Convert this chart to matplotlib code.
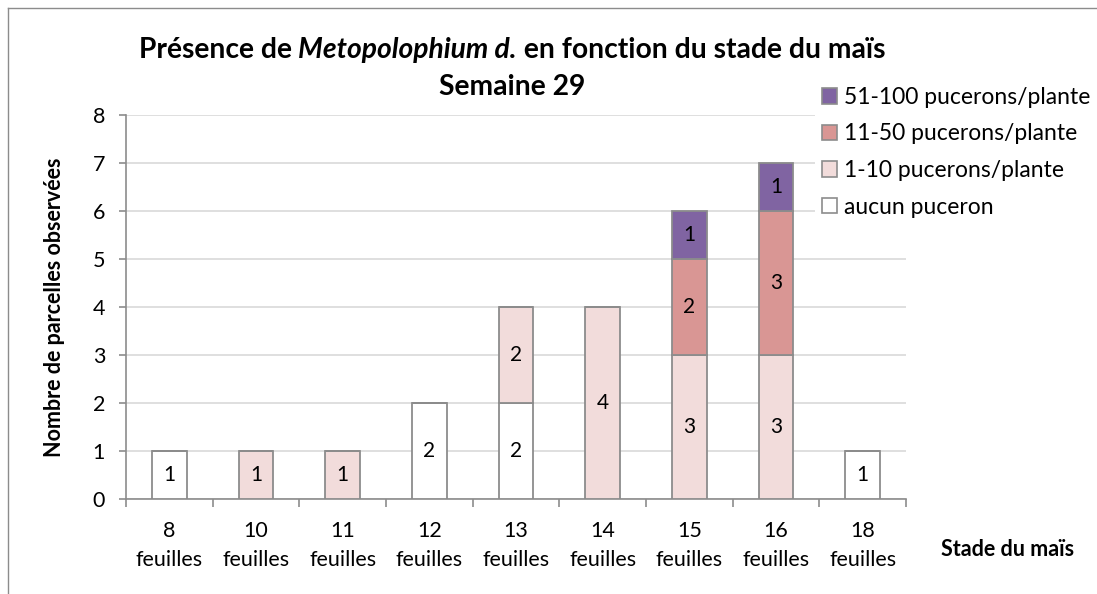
import matplotlib
matplotlib.use("Agg")
import matplotlib.pyplot as plt
from matplotlib.patches import Patch
from matplotlib.lines import Line2D
import numpy as np

categories = ["8\nfeuilles", "10\nfeuilles", "11\nfeuilles", "12\nfeuilles", "13\nfeuilles",
              "14\nfeuilles", "15\nfeuilles", "16\nfeuilles", "18\nfeuilles"]
aucun = [1, 0, 0, 2, 2, 0, 0, 0, 1]
p1_10 = [0, 1, 1, 0, 2, 4, 3, 3, 0]
p11_50 = [0, 0, 0, 0, 0, 0, 2, 3, 0]
p51_100 = [0, 0, 0, 0, 0, 0, 1, 1, 0]
series_names = ["aucun puceron", "1-10 pucerons/plante", "11-50 pucerons/plante", "51-100 pucerons/plante"]
colors = ["#FFFFFF", "#F2DCDB", "#D99694", "#8064A2"]

plt.rcParams['font.family'] = ['Lato', 'DejaVu Sans']

W, H = 1097, 594
fig = plt.figure(figsize=(W/100, H/100), dpi=100)
border = "#8C8C8C"
fig.add_artist(Line2D([8/W, 8/W], [0, 1 - 8/H], transform=fig.transFigure, color=border, lw=1.0))
fig.add_artist(Line2D([8/W, 1], [1 - 8/H, 1 - 8/H], transform=fig.transFigure, color=border, lw=1.0))

ax = fig.add_axes([126/W, 1 - 499/H, (906-126)/W, (499-115)/H])
x = np.arange(len(categories))
bottom = np.zeros(len(categories))
for vals, col in zip([aucun, p1_10, p11_50, p51_100], colors):
    vals = np.array(vals)
    ax.bar(x, vals, 0.4, bottom=bottom, color=col, edgecolor="#8C8C8C", linewidth=1.3, zorder=3)
    for xi, v, b in zip(x, vals, bottom):
        if v > 0:
            ax.text(xi, b + v/2, str(v), ha="center", va="center", fontsize=15, zorder=4)
    bottom += vals

ax.set_xlim(-0.5, len(categories) - 0.5)
ax.set_ylim(0, 8)
ax.set_yticks(range(0, 9))
ax.yaxis.grid(True, color="#D9D9D9", linewidth=1.2, zorder=0)
ax.set_axisbelow(True)
for s in ["top", "right"]:
    ax.spines[s].set_visible(False)
ax.spines["left"].set_color("#8C8C8C")
ax.spines["bottom"].set_color("#8C8C8C")
ax.spines["left"].set_linewidth(1.2)
ax.spines["bottom"].set_linewidth(1.2)
ax.set_xticks(np.arange(-0.5, len(categories), 1.0))
ax.set_xticklabels([])
ax.set_xticks(x, minor=True)
ax.set_xticklabels(categories, minor=True, fontsize=15.5, linespacing=1.55)
ax.tick_params(axis="x", which="major", direction="out", length=6, width=1.2, color="#8C8C8C")
ax.tick_params(axis="x", which="minor", length=0, pad=16)
ax.tick_params(axis="y", direction="out", length=5, width=1.2, color="#8C8C8C", labelsize=15.5, pad=10)

ax.set_ylabel("Nombre de parcelles observées", fontsize=15.5, fontweight="bold", labelpad=20)
fig.text(1008/W, 1 - 549/H, "Stade du maïs", fontsize=15.5, fontweight="bold", ha="center", va="center")

# Title: mixed bold / bold italic
title_parts = [("Présence de ", "normal"), ("Metopolophium d.", "italic"),
               (" en fonction du stade du maïs", "normal")]
fig.canvas.draw()
renderer = fig.canvas.get_renderer()
texts = []
widths = []
for s, style in title_parts:
    t = fig.text(0, 1 - 50/H, s, fontsize=20.3, fontweight="bold", style=style, ha="left", va="center")
    texts.append(t)
    widths.append(t.get_window_extent(renderer).width)
total = sum(widths)
xpos = 512 - total/2
for t, w in zip(texts, widths):
    t.set_x(xpos/W)
    xpos += w
fig.text(512/W, 1 - 87/H, "Semaine 29", fontsize=20.3, fontweight="bold", ha="center", va="center")

handles = [Patch(facecolor=c, edgecolor="#8C8C8C", linewidth=1.2) for c in colors[::-1]]
leg = fig.legend(handles, series_names[::-1], loc="upper left", bbox_to_anchor=(815/W, 1 - 80/H),
                 frameon=True, fancybox=False, facecolor="white", edgecolor="none", framealpha=1,
                 fontsize=16.5, handlelength=0.66, handleheight=0.66,
                 handletextpad=0.3, labelspacing=0.68, borderpad=0.3, borderaxespad=0)
leg.set_zorder(10)

fig.savefig("out.png", dpi=100)
